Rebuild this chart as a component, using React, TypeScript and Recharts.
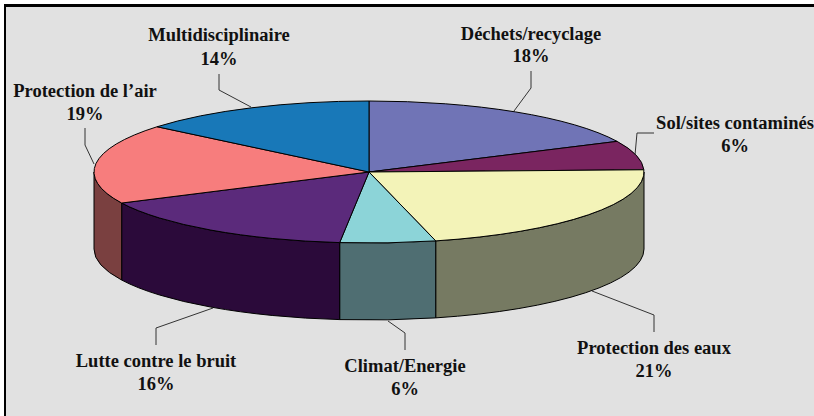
import { PieChart, Pie } from 'recharts'

const categories = ['Déchets/recyclage', 'Sol/sites contaminés', 'Protection des eaux', 'Climat/Energie', 'Lutte contre le bruit', "Protection de l’air", 'Multidisciplinaire']
// slice sizes as measured on the drawing, the printed labels are rounded differently
const sliceValues = [17.9, 6.6, 21.6, 5.6, 16.1, 18.2, 14.0]
const percentLabels = ['18%', '6%', '21%', '6%', '16%', '19%', '14%']
const topColors = ['#7074b6', '#7a2560', '#f3f3b8', '#8cd4d8', '#5b2a7b', '#f77d7d', '#1878b8']
const sideColors = ['#383a5b', '#3d1230', '#767a62', '#4f6e72', '#2b0a3a', '#7a4040', '#0c3c5c']

// label centre, baselines of the two lines, leader line
const labelLayout = [
  { x: 531, y1: 40, y2: 62, leader: '531,71 531,88 514,111' },
  { x: 735, y1: 129, y2: 152, leader: '654,133 637,133 635,155' },
  { x: 654, y1: 354, y2: 377, leader: '654,332 654,315 592,291' },
  { x: 405, y1: 372, y2: 395, leader: '405,350 405,333 388,321' },
  { x: 156, y1: 367, y2: 390, leader: '156,345 156,328 213,308' },
  { x: 85, y1: 97, y2: 120, leader: '85,128 85,145 94,164' },
  { x: 219, y1: 41, y2: 65, leader: '219,74 219,90 251,107' },
]

const RX = 275
const RY = 71
const DEPTH = 77

const topData = categories.map((name, i) => ({ name, value: sliceValues[i], fill: topColors[i] }))
const sideData = categories.map((name, i) => ({ name, value: sliceValues[i], fill: sideColors[i] }))

const point = (cx: number, cy: number, deg: number) => {
  const a = (deg * Math.PI) / 180
  return { x: cx + RX * Math.cos(a), y: cy - RY * Math.sin(a) }
}

// recharts hands over a round sector, squash it into an ellipse
const TopSlice = ({ cx, cy, startAngle, endAngle, fill }: any) => {
  const a = point(cx, cy, startAngle)
  const b = point(cx, cy, endAngle)
  const large = Math.abs(startAngle - endAngle) > 180 ? 1 : 0
  return (
    <path
      d={`M${cx},${cy} L${a.x},${a.y} A${RX},${RY} 0 ${large} 1 ${b.x},${b.y} Z`}
      fill={fill}
      stroke="#000"
      strokeWidth={1}
      strokeLinejoin="round"
    />
  )
}

// only the part of the rim on the lower half of the ellipse shows
const SideSlice = ({ cx, cy, startAngle, endAngle, fill }: any) => {
  const s = Math.min(startAngle, 0)
  const e = Math.max(endAngle, -180)
  if (s <= e) return <g />
  const a = point(cx, cy, s)
  const b = point(cx, cy, e)
  return (
    <path
      d={`M${a.x},${a.y} A${RX},${RY} 0 0 1 ${b.x},${b.y} L${b.x},${b.y + DEPTH} A${RX},${RY} 0 0 0 ${a.x},${a.y + DEPTH} Z`}
      fill={fill}
      stroke="#000"
      strokeWidth={1}
      strokeLinejoin="round"
    />
  )
}

const SliceLabel = ({ index }: any) => {
  const l = labelLayout[index]
  return (
    <g>
      <polyline points={l.leader} fill="none" stroke="#333" strokeWidth={1} />
      <text x={l.x} y={l.y1} textAnchor="middle" fontFamily="Liberation Serif" fontWeight="bold" fontSize={18.5} fill="#111">
        {categories[index]}
      </text>
      <text x={l.x} y={l.y2} textAnchor="middle" fontFamily="Liberation Serif" fontWeight="bold" fontSize={18.5} fill="#111">
        {percentLabels[index]}
      </text>
    </g>
  )
}

export default function App() {
  return (
    <div style={{ position: 'fixed', left: 0, top: 0, width: 814, height: 416, background: '#fff', overflow: 'hidden' }}>
      <div
        style={{
          position: 'absolute',
          left: 4,
          top: 4,
          width: 810,
          height: 412,
          boxSizing: 'border-box',
          background: '#e1e1e1',
          borderLeft: '2px solid #000',
          borderTop: '3px solid #000',
        }}
      />
      <div style={{ position: 'absolute', left: 0, top: 0 }}>
        <PieChart width={814} height={416} margin={{ top: 0, right: 0, bottom: 0, left: 0 }}>
          <Pie
            data={sideData}
            dataKey="value"
            cx={369}
            cy={172}
            outerRadius={275}
            startAngle={90}
            endAngle={-270}
            shape={SideSlice}
            isAnimationActive={false}
          />
          <Pie
            data={topData}
            dataKey="value"
            cx={369}
            cy={172}
            outerRadius={275}
            startAngle={90}
            endAngle={-270}
            shape={TopSlice}
            label={SliceLabel}
            labelLine={false}
            isAnimationActive={false}
          />
        </PieChart>
      </div>
    </div>
  )
}
